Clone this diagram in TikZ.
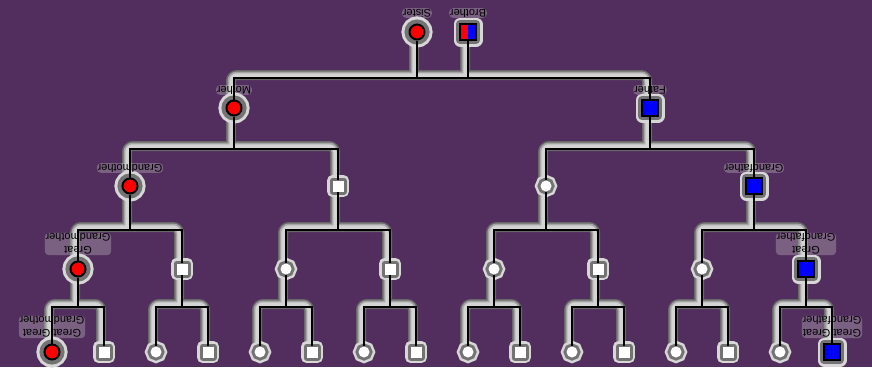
\documentclass[tikz,border=0pt]{standalone}
\usepackage{fontspec}
\setmainfont{Liberation Sans}
\usetikzlibrary{calc}
\definecolor{bgc}{RGB}{82,46,94}
\definecolor{rim}{RGB}{215,215,215}
\definecolor{haloin}{RGB}{115,115,115}
\definecolor{pipeout}{RGB}{105,105,105}
\definecolor{pipein}{RGB}{165,165,165}
\definecolor{pipemid}{RGB}{212,212,212}
\definecolor{kred}{RGB}{255,0,0}
\definecolor{kblue}{RGB}{0,0,255}
\pgfdeclarelayer{bg}
\pgfdeclarelayer{fg}
\pgfsetlayers{bg,main,fg}
\newcommand\famlink[4]{%
  \coordinate (#1bar) at (#1.center |- 0,#4);
  \begin{pgfonlayer}{bg}
    \draw[pipe] (#2.center) |- (#1bar) -| (#3.center) (#1.center) -- (#1bar);
  \end{pgfonlayer}
  \begin{pgfonlayer}{fg}
    \draw[kin] (#2) |- (#1bar) -| (#3) (#1) -- (#1bar);
  \end{pgfonlayer}}
\begin{document}
\begin{tikzpicture}[x=1pt,y=-1pt,
  fem/.style={circle, draw=black, line width=2pt, minimum size=15pt, inner sep=0pt, fill=kred,
    preaction={draw=rim, line width=16pt}, preaction={draw=haloin, line width=10pt}},
  mal/.style={rectangle, draw=black, line width=2pt, minimum size=16pt, inner sep=0pt, fill=kblue,
    preaction={draw=rim, line width=13pt, line join=round}, preaction={draw=haloin, line width=8pt, line join=round}},
  unf/.style={circle, draw=none, minimum size=11pt, inner sep=0pt, fill=white,
    preaction={draw=rim, line width=11pt}, preaction={draw=haloin, line width=6pt}},
  unm/.style={rectangle, draw=none, minimum size=11pt, inner sep=0pt, fill=white,
    preaction={draw=rim, line width=11pt, line join=round}, preaction={draw=haloin, line width=6pt, line join=round}},
  mix/.style={mal, fill=kred, path picture={\fill[kblue] (path picture bounding box.north) rectangle (path picture bounding box.south east);}},
  pipe/.style={draw=pipeout, line width=10pt, rounded corners=6pt, line cap=round,
    transform canvas={shift={(-3pt,3pt)}},
    postaction={draw=pipein, line width=7pt}, postaction={draw=pipemid, line width=3.5pt}},
  kin/.style={draw=black, line width=1.2pt},
  lbl/.style={font=\fontsize{11}{13}\selectfont, text=black, rotate=180, align=center, inner sep=0.8pt,
    fill=rim, fill opacity=0.3, text opacity=1, rounded corners=4pt}
]
\useasboundingbox (0,0) rectangle (872,367);
\begin{pgfonlayer}{bg}
  \fill[bgc] (0,0) rectangle (872,367);
\end{pgfonlayer}
% level 0
\node[fem] (sis) at (417,32) {};
\node[mix] (bro) at (468,32) {};
% level 1
\node[fem] (mom) at (234,108) {};
\node[mal] (dad) at (650,108) {};
% level 2
\node[fem] (g1) at (130,186) {};
\node[unm] (g2) at (338,186) {};
\node[unf] (g3) at (546,186) {};
\node[mal] (g4) at (754,186) {};
% level 3
\node[fem] (h1) at (78,269) {};
\node[unm] (h2) at (182,269) {};
\node[unf] (h3) at (286,269) {};
\node[unm] (h4) at (390,269) {};
\node[unf] (h5) at (494,269) {};
\node[unm] (h6) at (598,269) {};
\node[unf] (h7) at (702,269) {};
\node[mal] (h8) at (806,269) {};
% level 4
\node[fem] (k1) at (52,352) {};
\node[unm] (k2) at (104,352) {};
\node[unf] (k3) at (156,352) {};
\node[unm] (k4) at (208,352) {};
\node[unf] (k5) at (260,352) {};
\node[unm] (k6) at (312,352) {};
\node[unf] (k7) at (364,352) {};
\node[unm] (k8) at (416,352) {};
\node[unf] (k9) at (468,352) {};
\node[unm] (k10) at (520,352) {};
\node[unf] (k11) at (572,352) {};
\node[unm] (k12) at (624,352) {};
\node[unf] (k13) at (676,352) {};
\node[unm] (k14) at (728,352) {};
\node[unf] (k15) at (780,352) {};
\node[mal] (k16) at (832,352) {};
% labels
\node[lbl] (sisL) at (417,13) {Sister};
\node[lbl] (broL) at (468,13) {Brother};
\node[lbl] (momL) at (234,90) {Mother};
\node[lbl] (dadL) at (650,90) {Father};
\node[lbl] (g1L) at (130,168) {Grandmother};
\node[lbl] (g4L) at (754,168) {Grandfather};
\node[lbl] (h1L) at (78,244) {Great\\Grandmother};
\node[lbl] (h8L) at (806,244) {Great\\Grandfather};
\node[lbl] (k1L) at (52,327) {Great Great\\Grandmother};
\node[lbl] (k16L) at (832,327) {Great Great\\Grandfather};
% connectors level 0 -> 1
\coordinate (topbar) at (442,78);
\begin{pgfonlayer}{bg}
  \draw[pipe] (mom.center) |- (topbar) -| (dad.center) (sis.center) -- (sis.center |- topbar) (bro.center) -- (bro.center |- topbar);
\end{pgfonlayer}
\begin{pgfonlayer}{fg}
  \draw[kin] (mom) |- (topbar) -| (dad) (sis) -- (sis.center |- topbar) (bro) -- (bro.center |- topbar);
\end{pgfonlayer}
% level 1 -> 2
\famlink{mom}{g1}{g2}{149}
\famlink{dad}{g3}{g4}{149}
% level 2 -> 3
\famlink{g1}{h1}{h2}{230}
\famlink{g2}{h3}{h4}{230}
\famlink{g3}{h5}{h6}{230}
\famlink{g4}{h7}{h8}{230}
% level 3 -> 4
\famlink{h1}{k1}{k2}{307}
\famlink{h2}{k3}{k4}{307}
\famlink{h3}{k5}{k6}{307}
\famlink{h4}{k7}{k8}{307}
\famlink{h5}{k9}{k10}{307}
\famlink{h6}{k11}{k12}{307}
\famlink{h7}{k13}{k14}{307}
\famlink{h8}{k15}{k16}{307}
\end{tikzpicture}
\end{document}
